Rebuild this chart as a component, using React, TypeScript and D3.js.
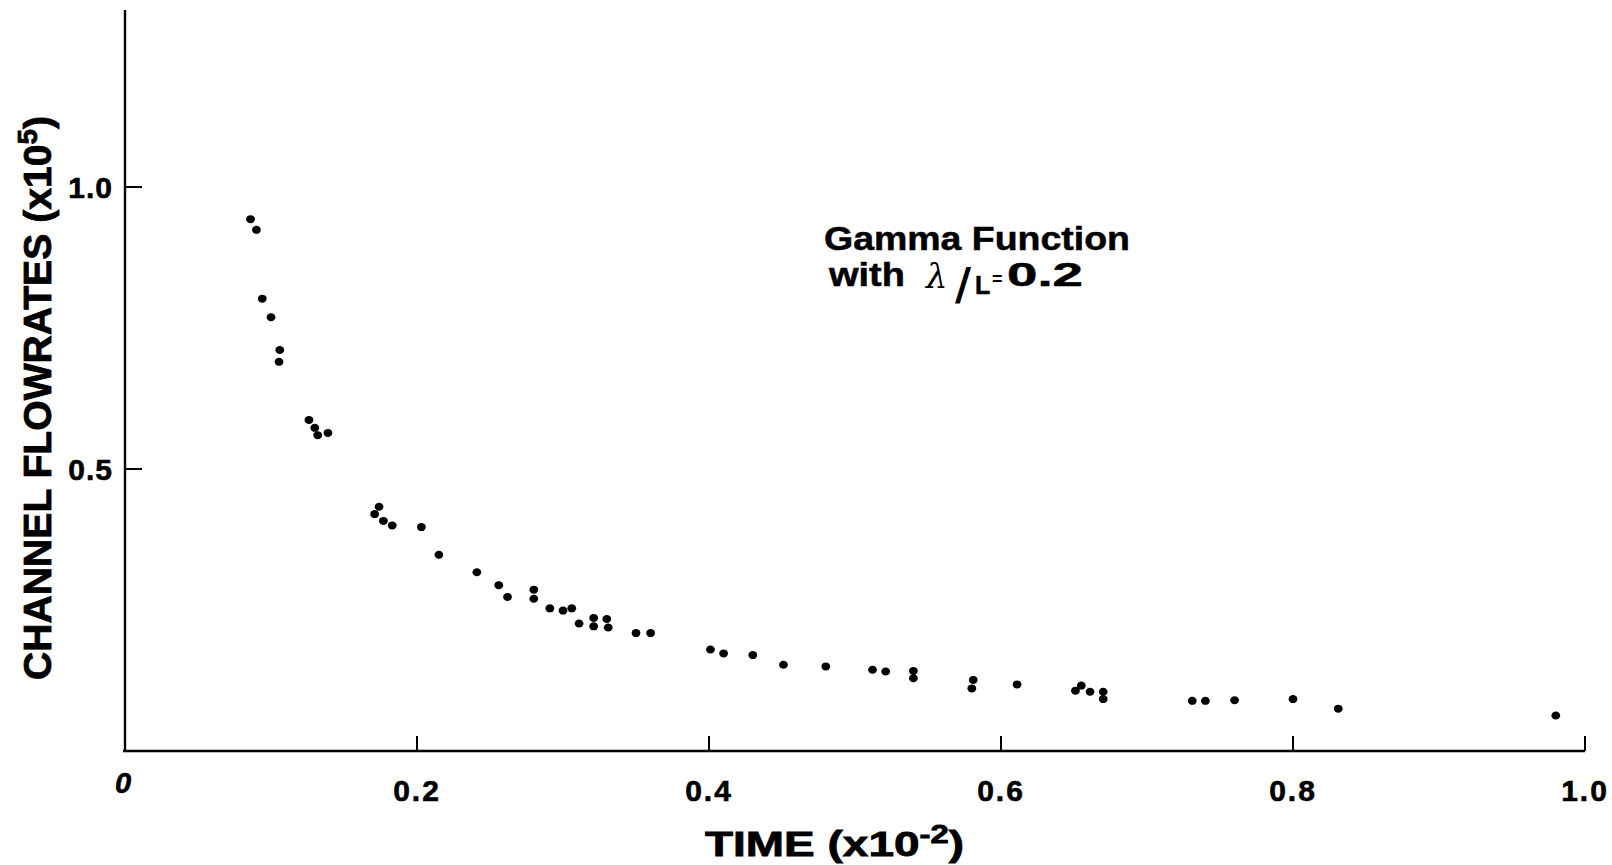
import React from 'react';
import * as d3 from 'd3';

const timeValues = [
  0.086, 0.090, 0.094, 0.100, 0.106, 0.1055, 0.126, 0.130, 0.132, 0.139,
  0.174, 0.171, 0.177, 0.183, 0.203, 0.215, 0.241, 0.256, 0.262, 0.280, 0.280,
  0.291, 0.300, 0.306, 0.311, 0.321, 0.321, 0.330, 0.331, 0.350, 0.360,
  0.401, 0.410, 0.430, 0.451, 0.480, 0.512, 0.521, 0.540, 0.540, 0.581, 0.580, 0.611,
  0.651, 0.655, 0.661, 0.670, 0.670, 0.731, 0.740, 0.760, 0.800, 0.831, 0.980,
];
const flowValues = [
  0.943, 0.924, 0.802, 0.769, 0.711, 0.690, 0.587, 0.573, 0.560, 0.564,
  0.433, 0.420, 0.408, 0.400, 0.397, 0.348, 0.317, 0.294, 0.273, 0.286, 0.270,
  0.253, 0.249, 0.253, 0.226, 0.236, 0.221, 0.234, 0.219, 0.209, 0.209,
  0.180, 0.173, 0.170, 0.153, 0.150, 0.144, 0.141, 0.142, 0.129, 0.126, 0.111, 0.118,
  0.107, 0.116, 0.105, 0.105, 0.092, 0.089, 0.089, 0.090, 0.092, 0.075, 0.063,
];
const xTicks = [0.2, 0.4, 0.6, 0.8, 1.0];
const xTickLabels = ['0.2', '0.4', '0.6', '0.8', '1.0'];
const yTicks = [0.5, 1.0];
const yTickLabels = ['0.5', '1.0'];

const FONT = '"Liberation Sans", Arial, Helvetica, sans-serif';

export default function App() {
  const W = 1612;
  const H = 865;
  const x = d3.scaleLinear().domain([0, 1]).range([125, 1585]);
  const y = d3.scaleLinear().domain([0, 1]).range([751, 187]);
  const yTop = y.invert(10);
  const pts = timeValues.map((t, i) => [x(t), y(flowValues[i])]);
  const xAxisPath = d3.line()([[x(0) - 2, y(0)], [x(1), y(0)]]) as string;
  const yAxisPath = d3.line()([[x(0), y(0)], [x(0), y(yTop)]]) as string;

  return (
    <svg
      width={W}
      height={H}
      style={{ position: 'fixed', left: 0, top: 0, background: '#fff' }}
      fontFamily={FONT}
    >
      <rect x={0} y={0} width={W} height={H} fill="#fff" />
      <path d={xAxisPath} stroke="#000" strokeWidth={2.4} fill="none" />
      <path d={yAxisPath} stroke="#000" strokeWidth={2.4} fill="none" />
      {xTicks.map((t, i) => (
        <g key={'xt' + i}>
          <line x1={x(t)} x2={x(t)} y1={y(0)} y2={y(0) - 15} stroke="#000" strokeWidth={2} />
          <text x={x(t)} y={801} textAnchor="middle" fontSize={30} fontWeight="bold" letterSpacing={2}
            stroke="#000" strokeWidth={0.6}>
            {xTickLabels[i]}
          </text>
        </g>
      ))}
      <text x={x(0) - 2} y={793} textAnchor="middle" fontSize={29} fontWeight="bold" fontStyle="italic"
        stroke="#000" strokeWidth={0.6}>0</text>
      {yTicks.map((t, i) => (
        <g key={'yt' + i}>
          <line x1={x(0)} x2={x(0) + 17} y1={y(t)} y2={y(t)} stroke="#000" strokeWidth={2} />
          <text x={113} y={y(t) + 11} textAnchor="end" fontSize={30} fontWeight="bold" letterSpacing={1}
            stroke="#000" strokeWidth={0.6}>
            {yTickLabels[i]}
          </text>
        </g>
      ))}
      {pts.map((p, i) => (
        <ellipse key={'p' + i} cx={p[0]} cy={p[1]} rx={4.4} ry={4} fill="#000" />
      ))}
      <text
        transform="translate(51,398) rotate(-90)"
        textAnchor="middle"
        fontSize={38}
        fontWeight="bold"
        textLength={564}
        lengthAdjust="spacingAndGlyphs"
        stroke="#000"
        strokeWidth={0.8}
      >
        CHANNEL FLOWRATES (x10<tspan dy={-14} fontSize={27}>5</tspan><tspan dy={14}>)</tspan>
      </text>
      <text
        x={705}
        y={856}
        fontSize={35}
        fontWeight="bold"
        textLength={259}
        lengthAdjust="spacingAndGlyphs"
        stroke="#000"
        strokeWidth={0.8}
      >
        TIME (x10<tspan dy={-13} fontSize={25}>-2</tspan><tspan dy={13}>)</tspan>
      </text>
      <text x={824} y={250} fontSize={33} fontWeight="bold" textLength={306} lengthAdjust="spacingAndGlyphs"
        stroke="#000" strokeWidth={0.5}>
        Gamma Function
      </text>
      <text x={829} y={286} fontSize={33} fontWeight="bold" textLength={76} lengthAdjust="spacingAndGlyphs"
        stroke="#000" strokeWidth={0.5}>
        with
      </text>
      <text x={926} y={288} fontSize={34} fontStyle="italic" fontFamily='"DejaVu Serif", serif'>
        λ
      </text>
      <text x={955} y={300} fontSize={44} fontWeight="bold" fontFamily='"DejaVu Sans", sans-serif'>/</text>
      <text x={975} y={294} fontSize={25} fontWeight="bold" stroke="#000" strokeWidth={0.5}>L</text>
      <text x={992} y={285} fontSize={18} fontWeight="bold">=</text>
      <text x={1007} y={286} fontSize={33} fontWeight="bold" textLength={76} lengthAdjust="spacingAndGlyphs"
        stroke="#000" strokeWidth={0.5}>
        0.2
      </text>
    </svg>
  );
}
